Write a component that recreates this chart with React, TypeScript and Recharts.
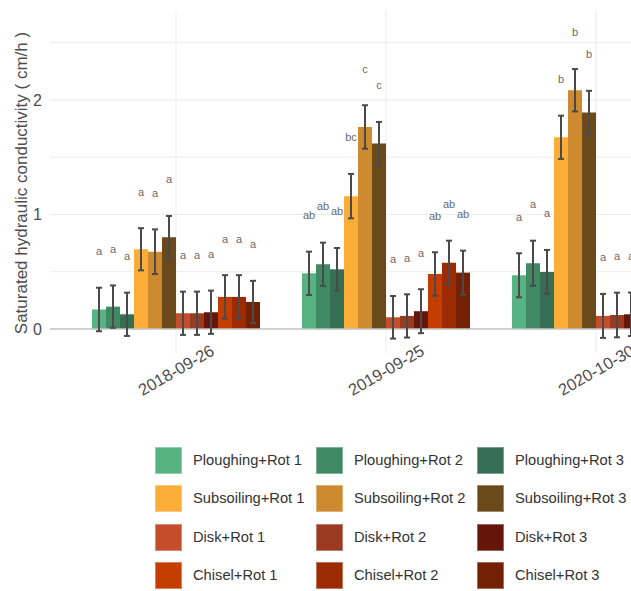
import React from "react";
import { BarChart, Bar, XAxis, YAxis, CartesianGrid, ErrorBar, LabelList, ReferenceLine } from "recharts";

const dates = ["2018-09-26", "2019-09-25", "2020-10-30"];

const treatments = [
  "Ploughing+Rot 1", "Ploughing+Rot 2", "Ploughing+Rot 3",
  "Subsoiling+Rot 1", "Subsoiling+Rot 2", "Subsoiling+Rot 3",
  "Disk+Rot 1", "Disk+Rot 2", "Disk+Rot 3",
  "Chisel+Rot 1", "Chisel+Rot 2", "Chisel+Rot 3",
];

const colors = [
  "#58b383", "#3f8a62", "#356e52",
  "#fbad38", "#cd8a2e", "#6a4a1b",
  "#c44e2c", "#9a3a20", "#66150b",
  "#c43e02", "#9c2b04", "#732004",
];

// mean Ks per treatment, one array per sampling date
const means2018 = [0.17, 0.195, 0.128, 0.696, 0.675, 0.8, 0.137, 0.137, 0.146, 0.28, 0.28, 0.236];
const means2019 = [0.486, 0.565, 0.521, 1.16, 1.764, 1.62, 0.102, 0.114, 0.155, 0.48, 0.579, 0.492];
const means2020 = [0.469, 0.574, 0.498, 1.674, 2.085, 1.89, 0.114, 0.122, 0.128, 0.42, 0.47, 0.4];

// standard errors
const se2018 = [0.19, 0.185, 0.189, 0.184, 0.195, 0.187, 0.189, 0.189, 0.189, 0.19, 0.19, 0.184];
const se2019 = [0.189, 0.189, 0.186, 0.194, 0.19, 0.188, 0.186, 0.189, 0.192, 0.19, 0.192, 0.192];
const se2020 = [0.192, 0.197, 0.192, 0.189, 0.185, 0.19, 0.192, 0.195, 0.19, 0.19, 0.19, 0.19];

// significance letters
const letters2018 = ["a", "a", "a", "a", "a", "a", "a", "a", "a", "a", "a", "a"];
const letters2019 = ["ab", "ab", "ab", "bc", "c", "c", "a", "a", "a", "ab", "ab", "ab"];
const letters2020 = ["a", "a", "a", "b", "b", "b", "a", "a", "a", "a", "a", "a"];

const yTicks = [0, 0.5, 1, 1.5, 2, 2.5];

const means = [means2018, means2019, means2020];
const errors = [se2018, se2019, se2020];
const letters = [letters2018, letters2019, letters2020];

const rows = dates.map((date, d) => {
  const row: Record<string, any> = { date };
  treatments.forEach((_, i) => {
    row[`v${i}`] = means[d][i];
    row[`e${i}`] = errors[d][i];
  });
  return row;
});

const FONT = '"Liberation Sans", Arial, sans-serif';

const DateTick = (props: any) => {
  const { x, y, payload } = props;
  const cy = y + 17;
  return (
    <text
      x={x}
      y={cy}
      textAnchor="middle"
      dominantBaseline="central"
      transform={`rotate(-30, ${x}, ${cy})`}
      fontSize={16.5}
      fill="#4d4d4d"
      fontFamily={FONT}
    >
      {payload.value}
    </text>
  );
};

// letter sits a fixed distance above the error bar cap
const letterLabel = (s: number) => (props: any) => {
  const { x, y, width, height, value, index } = props;
  if (!value) return null;
  const ppu = height / value;
  const cy = y - (errors[index][s] + 0.32) * ppu;
  return (
    <text
      x={x + width / 2}
      y={cy}
      textAnchor="middle"
      dominantBaseline="central"
      fontSize={11}
      fill="#6a6a6a"
      fontFamily={FONT}
    >
      {letters[index][s]}
    </text>
  );
};

const YTitle = () => (
  <text
    x={21}
    y={183}
    textAnchor="middle"
    dominantBaseline="central"
    transform="rotate(-90, 21, 183)"
    fontSize={17}
    fill="#4d4d4d"
    fontFamily={FONT}
  >
    Saturated hydraulic conductivity ( cm/h )
  </text>
);

export default function App() {
  return (
    <div
      style={{
        position: "absolute",
        left: 0,
        top: 0,
        width: 631,
        height: 591,
        overflow: "hidden",
        background: "#fff",
        fontFamily: FONT,
      }}
    >
      <BarChart
        width={760}
        height={420}
        data={rows}
        margin={{ top: 11, right: 38, bottom: 0, left: 0 }}
        barCategoryGap="10%"
        barGap={0}
      >
        <CartesianGrid stroke="#ebebeb" strokeWidth={1} syncWithTicks />
        <XAxis
          dataKey="date"
          height={67}
          padding={{ left: 21, right: 21 }}
          axisLine={false}
          tickLine={false}
          tickSize={0}
          tickMargin={0}
          tick={<DateTick />}
          interval={0}
        />
        <YAxis
          type="number"
          width={50}
          domain={[-0.21, 2.777]}
          ticks={yTicks}
          allowDataOverflow
          axisLine={false}
          tickLine={false}
          tick={{ fontSize: 16, fill: "#4d4d4d", fontFamily: FONT }}
          tickFormatter={(v: number) => (Number.isInteger(v) ? String(v) : "")}
        />
        <ReferenceLine y={0} stroke="#c4c4c4" strokeWidth={1.5} />
        {treatments.map((name, i) => (
          <Bar key={name} dataKey={`v${i}`} name={name} fill={colors[i]} isAnimationActive={false}>
            <ErrorBar dataKey={`e${i}`} width={3} strokeWidth={2} stroke="#4a4a4a" />
            <LabelList dataKey={`v${i}`} content={letterLabel(i)} />
          </Bar>
        ))}
        <YTitle />
      </BarChart>

      <div
        style={{
          position: "absolute",
          left: 155,
          top: 447,
          display: "grid",
          gridTemplateColumns: "161px 161px 161px",
          gridAutoRows: "38.3px",
        }}
      >
        {treatments.map((name, i) => (
          <div key={name} style={{ display: "flex", alignItems: "flex-start" }}>
            <div
              style={{
                width: 27,
                height: 27,
                background: colors[i],
                boxShadow: "inset 0 0 0 1px rgba(255,255,255,0.35)",
              }}
            />
            <span
              style={{
                marginLeft: 11,
                fontSize: 14.7,
                lineHeight: "27px",
                color: "#333",
                whiteSpace: "nowrap",
              }}
            >
              {name}
            </span>
          </div>
        ))}
      </div>
    </div>
  );
}
